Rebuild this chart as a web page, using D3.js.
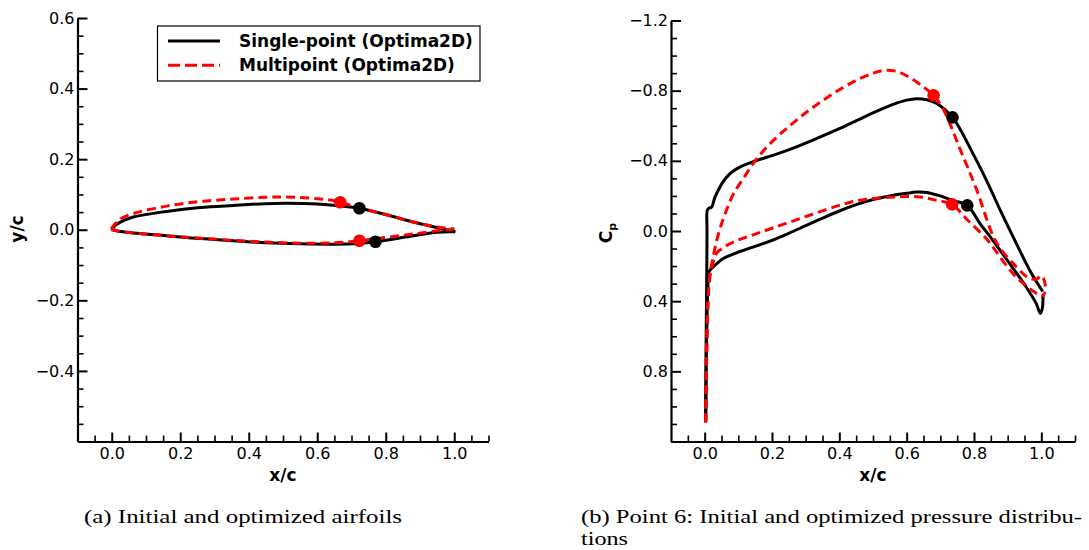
<!DOCTYPE html>
<html>
<head>
<meta charset="utf-8">
<script src="https://cdn.jsdelivr.net/npm/d3@7"></script>
<style>
body { margin: 0; background: #fff; }
svg { display: block; }
.axis text { font-family: "DejaVu Sans", sans-serif; font-size: 16px; fill: #000; }
.axis path, .axis line { stroke: #000; }
.label { font-family: "DejaVu Sans", sans-serif; font-weight: bold; font-size: 17px; fill: #000; }
.caption { font-family: "Liberation Serif", serif; font-size: 19px; fill: #000; }
</style>
</head>
<body>
<div id="chart-area"></div>
<script>
// (a) airfoil coordinates [x/c, y/c]
var singleUpper = [[0, 0], [0.01, 0.012], [0.024, 0.021], [0.063, 0.036], [0.16, 0.052], [0.258, 0.063],
    [0.355, 0.069], [0.45, 0.074], [0.51, 0.075], [0.6, 0.073], [0.66, 0.068], [0.723, 0.061],
    [0.8, 0.043], [0.88, 0.022], [0.95, 0.006], [1.003, -0.006]];
var singleLower = [[0, 0], [0.02, -0.004], [0.063, -0.009], [0.16, -0.017], [0.258, -0.025], [0.355, -0.031],
    [0.45, -0.037], [0.55, -0.04], [0.65, -0.041], [0.72, -0.039], [0.77, -0.034], [0.88, -0.017],
    [0.95, -0.007], [1.003, -0.006]];
var multiUpper = [[-0.002, 0.002], [0.01, 0.017], [0.024, 0.03], [0.063, 0.046], [0.16, 0.067], [0.258, 0.08],
    [0.355, 0.087], [0.45, 0.092], [0.51, 0.093], [0.6, 0.088], [0.64, 0.084], [0.667, 0.078],
    [0.723, 0.062], [0.8, 0.043], [0.88, 0.022], [0.95, 0.008], [1.0, 0.002]];
var multiLower = [[-0.002, 0.002], [0.02, -0.004], [0.063, -0.009], [0.16, -0.017], [0.258, -0.024], [0.355, -0.03],
    [0.45, -0.035], [0.55, -0.038], [0.65, -0.037], [0.723, -0.031], [0.8, -0.022], [0.88, -0.012],
    [0.95, -0.003], [1.0, 0.002]];
var singleDotsA = [[0.723, 0.061], [0.77, -0.034]];
var multiDotsA = [[0.667, 0.078], [0.723, -0.031]];

// (b) pressure coefficient [x/c, Cp]
var singleCpUpper = [[0.003, 1.09], [0.004, 0.7], [0.006, 0.3], [0.007, 0.0], [0.008, -0.12], [0.013, -0.13],
    [0.021, -0.137], [0.03, -0.19], [0.045, -0.25], [0.06, -0.295], [0.08, -0.335], [0.11, -0.37],
    [0.144, -0.395], [0.2, -0.43], [0.253, -0.465], [0.33, -0.525], [0.4, -0.583], [0.461, -0.638],
    [0.52, -0.69], [0.56, -0.722], [0.6, -0.746], [0.629, -0.754], [0.66, -0.748], [0.688, -0.728],
    [0.736, -0.648], [0.758, -0.583], [0.8, -0.43], [0.837, -0.289], [0.88, -0.11], [0.926, 0.072],
    [0.97, 0.24], [1.004, 0.345]];
var singleCpLower = [[0.003, 1.09], [0.006, 0.6], [0.01, 0.3], [0.013, 0.232], [0.02, 0.215], [0.031, 0.195],
    [0.055, 0.157], [0.105, 0.117], [0.154, 0.085], [0.2, 0.053], [0.25, 0.013], [0.3, -0.03],
    [0.35, -0.073], [0.4, -0.114], [0.45, -0.15], [0.5, -0.18], [0.55, -0.2], [0.6, -0.215],
    [0.63, -0.222], [0.66, -0.22], [0.7, -0.2], [0.74, -0.172], [0.78, -0.146], [0.817, -0.045],
    [0.856, 0.053], [0.906, 0.186], [0.955, 0.319], [0.985, 0.414], [0.997, 0.47], [1.003, 0.44],
    [1.005, 0.36]];
var multiCpUpper = [[0.003, 1.09], [0.006, 0.7], [0.01, 0.4], [0.015, 0.25], [0.025, 0.15], [0.035, 0.06],
    [0.05, -0.04], [0.065, -0.12], [0.085, -0.21], [0.115, -0.3], [0.154, -0.41], [0.204, -0.517],
    [0.253, -0.6], [0.303, -0.678], [0.352, -0.745], [0.4, -0.805], [0.451, -0.86], [0.5, -0.9],
    [0.53, -0.915], [0.57, -0.91], [0.609, -0.875], [0.64, -0.835], [0.68, -0.773], [0.708, -0.697],
    [0.758, -0.47], [0.807, -0.24], [0.866, 0.063], [0.926, 0.205], [0.96, 0.265], [0.985, 0.275],
    [1.0, 0.255], [1.01, 0.29], [1.01, 0.35], [1.003, 0.375]];
var multiCpLower = [[0.003, 1.09], [0.006, 0.7], [0.01, 0.4], [0.015, 0.27], [0.025, 0.18], [0.036, 0.125],
    [0.055, 0.095], [0.085, 0.063], [0.154, 0.015], [0.253, -0.051], [0.4, -0.146], [0.46, -0.175],
    [0.56, -0.194], [0.64, -0.194], [0.688, -0.175], [0.735, -0.152], [0.777, -0.07], [0.837, 0.044],
    [0.856, 0.091], [0.916, 0.243], [0.965, 0.328], [1.003, 0.376]];
var singleDotsB = [[0.736, -0.648], [0.78, -0.146]];
var multiDotsB = [[0.68, -0.773], [0.735, -0.152]];

// tick labels
var xTicks = [0, 0.2, 0.4, 0.6, 0.8, 1.0];
var yTicksA = [0.6, 0.4, 0.2, 0, -0.2, -0.4];
var yTicksB = [-1.2, -0.8, -0.4, 0, 0.4, 0.8];
var legendLabels = ["Single-point (Optima2D)", "Multipoint (Optima2D)"];

var width = 1089, height = 550;

var svg = d3.select("#chart-area").append("svg")
    .attr("width", width)
    .attr("height", height);

var fmt = d3.format(".1f");

var line = d3.line().curve(d3.curveCatmullRom.alpha(0.5));

function drawPanel(x, y, yTicks, yMinor, series, dots) {
    var g = svg.append("g");
    var bottom = d3.max(y.range());
    var left = x.range()[0];

    // minor ticks
    var xMinor = d3.range(-0.05, 1.101, 0.05).filter(function(v) {
        return xTicks.every(function(t) { return Math.abs(t - v) > 1e-6; });
    });
    g.append("g").attr("class", "axis")
        .attr("transform", "translate(0," + bottom + ")")
        .call(d3.axisBottom(x).tickValues(xMinor).tickSize(-6).tickFormat(""))
        .call(function(s) { s.select(".domain").remove(); s.selectAll("line").attr("stroke-width", 1.6); });
    g.append("g").attr("class", "axis")
        .attr("transform", "translate(" + left + ",0)")
        .call(d3.axisLeft(y).tickValues(yMinor).tickSize(-6).tickFormat(""))
        .call(function(s) { s.select(".domain").remove(); s.selectAll("line").attr("stroke-width", 1.6); });

    // major ticks + labels
    g.append("g").attr("class", "axis")
        .attr("transform", "translate(0," + bottom + ")")
        .call(d3.axisBottom(x).tickValues(xTicks).tickSize(-9).tickSizeOuter(0).tickPadding(6).tickFormat(fmt))
        .call(function(s) { s.select(".domain").attr("stroke-width", 2.2); s.selectAll("line").attr("stroke-width", 2); });
    g.append("g").attr("class", "axis")
        .attr("transform", "translate(" + left + ",0)")
        .call(d3.axisLeft(y).tickValues(yTicks).tickSize(-10).tickSizeOuter(0).tickPadding(3).tickFormat(fmt))
        .call(function(s) { s.select(".domain").attr("stroke-width", 2.2); s.selectAll("line").attr("stroke-width", 2); });

    line.x(function(d) { return x(d[0]); }).y(function(d) { return y(d[1]); });

    series.forEach(function(s) {
        g.append("path")
            .datum(s.data)
            .attr("fill", "none")
            .attr("stroke", s.color)
            .attr("stroke-width", 3)
            .attr("stroke-dasharray", s.dash)
            .attr("stroke-linejoin", "round")
            .attr("d", line);
    });

    dots.forEach(function(s) {
        g.selectAll(null)
            .data(s.data)
            .enter().append("circle")
            .attr("cx", function(d) { return x(d[0]); })
            .attr("cy", function(d) { return y(d[1]); })
            .attr("r", 6.3)
            .attr("fill", s.color);
    });
    return g;
}

// (a) airfoils
var xA = d3.scaleLinear().domain([-0.1, 1.1]).range([77.5, 488.5]);
var yA = d3.scaleLinear().domain([-0.6, 0.6]).range([441.5, 18]);
var yMinorA = d3.range(-0.55, 0.6, 0.05).filter(function(v) {
    return yTicksA.every(function(t) { return Math.abs(t - v) > 1e-6; });
});
drawPanel(xA, yA, yTicksA, yMinorA, [
    {data: singleUpper, color: "#000", dash: null},
    {data: singleLower, color: "#000", dash: null},
    {data: multiUpper, color: "#ff0000", dash: "9,5"},
    {data: multiLower, color: "#ff0000", dash: "9,5"}
], [
    {data: multiDotsA, color: "#ff0000"},
    {data: singleDotsA, color: "#000"}
]);

// (b) pressure distributions, Cp axis reversed
var xB = d3.scaleLinear().domain([-0.1, 1.1]).range([671, 1075]);
var yB = d3.scaleLinear().domain([-1.2, 1.2]).range([20.5, 441.5]);
var yMinorB = d3.range(-1.1, 1.201, 0.1).filter(function(v) {
    return yTicksB.every(function(t) { return Math.abs(t - v) > 1e-6; });
});
drawPanel(xB, yB, yTicksB, yMinorB, [
    {data: singleCpUpper, color: "#000", dash: null},
    {data: singleCpLower, color: "#000", dash: null},
    {data: multiCpUpper, color: "#ff0000", dash: "9,5"},
    {data: multiCpLower, color: "#ff0000", dash: "9,5"}
], [
    {data: multiDotsB, color: "#ff0000"},
    {data: singleDotsB, color: "#000"}
]);

// axis labels
svg.append("text").attr("class", "label")
    .attr("x", 283).attr("y", 481).attr("text-anchor", "middle").text("x/c");
svg.append("text").attr("class", "label")
    .attr("x", 873).attr("y", 481).attr("text-anchor", "middle").text("x/c");
svg.append("text").attr("class", "label")
    .attr("transform", "translate(23,229) rotate(-90)")
    .attr("text-anchor", "middle").text("y/c");
var cp = svg.append("text").attr("class", "label")
    .attr("transform", "translate(612,233) rotate(-90)")
    .attr("text-anchor", "middle");
cp.append("tspan").text("C");
cp.append("tspan").attr("font-size", "11px").attr("dy", 4).text("p");

// legend
var legend = svg.append("g");
legend.append("rect")
    .attr("x", 157.5).attr("y", 26).attr("width", 322.5).attr("height", 55)
    .attr("fill", "#fff").attr("stroke", "#000").attr("stroke-width", 1.2);
var legendStyles = [{color: "#000", dash: null}, {color: "#ff0000", dash: "12,5"}];
legendLabels.forEach(function(lbl, i) {
    var ly = 41 + i * 24.3;
    legend.append("line")
        .attr("x1", 168).attr("x2", 220).attr("y1", ly).attr("y2", ly)
        .attr("stroke", legendStyles[i].color).attr("stroke-width", 3)
        .attr("stroke-dasharray", legendStyles[i].dash);
    legend.append("text").attr("class", "label")
        .attr("x", 239).attr("y", ly + 6).text(lbl);
});

// captions
svg.append("text").attr("class", "caption")
    .attr("x", 84).attr("y", 523).attr("textLength", 318).attr("lengthAdjust", "spacingAndGlyphs")
    .text("(a) Initial and optimized airfoils");
svg.append("text").attr("class", "caption")
    .attr("x", 581).attr("y", 523).attr("textLength", 501).attr("lengthAdjust", "spacingAndGlyphs")
    .text("(b) Point 6: Initial and optimized pressure distribu-");
svg.append("text").attr("class", "caption")
    .attr("x", 581).attr("y", 545).attr("textLength", 47).attr("lengthAdjust", "spacingAndGlyphs")
    .text("tions");
</script>
</body>
</html>
